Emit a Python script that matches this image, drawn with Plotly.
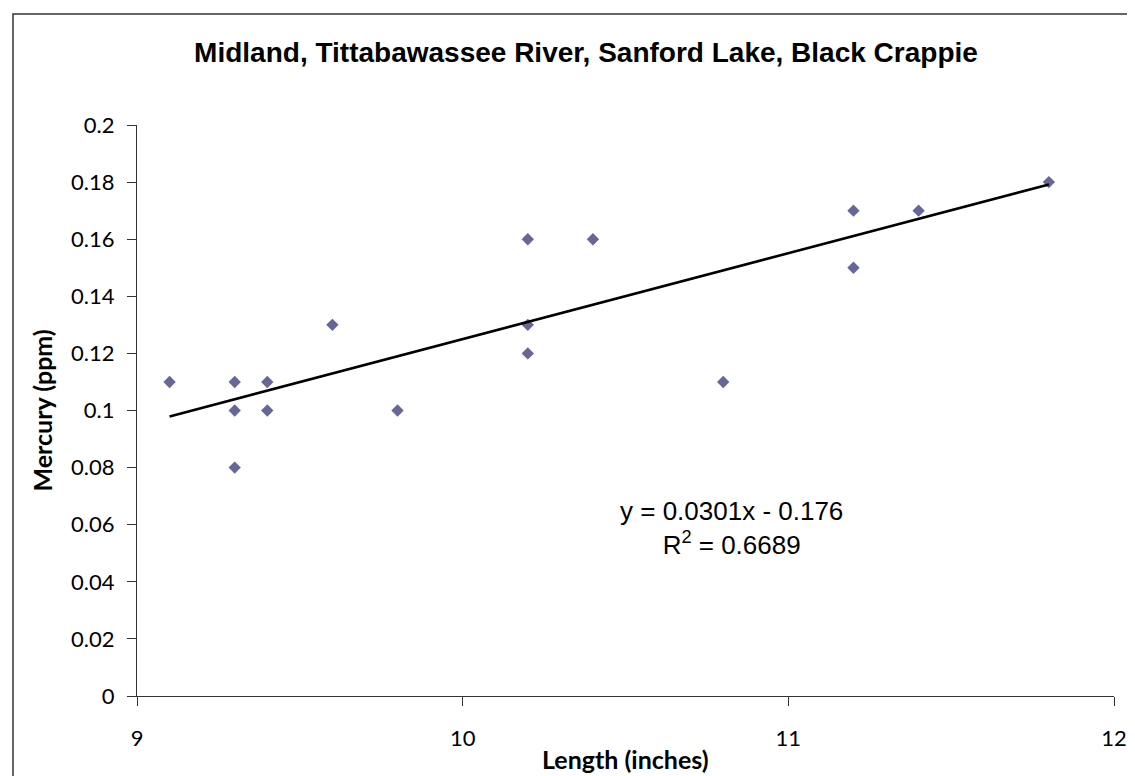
import numpy as np
import plotly.graph_objects as go

# fish length (inches) vs mercury (ppm)
length = [9.1, 9.3, 9.3, 9.3, 9.4, 9.4, 9.6, 9.8, 10.2, 10.2, 10.2, 10.4, 10.8, 11.2, 11.2, 11.4, 11.8]
mercury = [0.11, 0.11, 0.10, 0.08, 0.11, 0.10, 0.13, 0.10, 0.16, 0.13, 0.12, 0.16, 0.11, 0.17, 0.15, 0.17, 0.18]

slope = 0.0301
intercept = -0.176
r_squared = 0.6689

W, H = 1135, 776
L, R, T, B = 129, 29, 117, 88
pw, ph = W - L - R, H - T - B

fig = go.Figure()

fig.add_trace(go.Scatter(
    x=length, y=mercury, mode='markers', name='Mercury',
    marker=dict(symbol='diamond', size=9.5, color='#666699', line=dict(width=0))
))

trend_x = np.array([min(length), max(length)])
fig.add_trace(go.Scatter(
    x=trend_x, y=slope * trend_x + intercept, mode='lines', name='Linear',
    line=dict(color='black', width=2.6)
))

# outer chart border (right/bottom edges fall outside the picture)
fig.add_shape(type='rect', xref='paper', yref='paper',
              x0=(5 - L) / pw, x1=(W + 10 - L) / pw,
              y0=-(B + 10) / ph, y1=(H - B - 6) / ph,
              line=dict(color='#333333', width=1.5))

fig.add_annotation(
    x=10.827, y=0.0588, xref='x', yref='y', showarrow=False,
    text=f'y = {slope}x - {abs(intercept)}<br>R<sup>2</sup> = {r_squared}',
    font=dict(family='Liberation Sans, Arial', size=26, color='black'),
    align='center'
)

# axis titles
title_font = dict(family='Lato', size=25, color='black')
fig.add_annotation(x=(617 - L) / pw, y=-(751 - (H - B)) / ph, xref='paper', yref='paper',
                   showarrow=False, text='<b>Length (inches)</b>', font=title_font,
                   xanchor='center', yanchor='middle')
fig.add_annotation(x=-(L - 33) / pw, y=0.5, xref='paper', yref='paper',
                   showarrow=False, text='<b>Mercury (ppm)</b>', font=title_font,
                   textangle=-90, xanchor='center', yanchor='middle')

axis_font = dict(family='Lato', size=22, color='black')
fig.update_layout(
    width=W, height=H,
    margin=dict(l=L, r=R, t=T, b=B),
    paper_bgcolor='white', plot_bgcolor='white',
    showlegend=False,
    title=dict(text='<b>Midland, Tittabawassee River, Sanford Lake, Black Crappie</b>',
               x=578 / W, xanchor='center', y=1 - 44 / H, yanchor='middle',
               font=dict(family='Liberation Sans, Arial', size=28, color='black')),
    xaxis=dict(range=[9, 12], dtick=1, showgrid=False, zeroline=False,
               showline=True, linecolor='#333333', linewidth=1.2,
               ticks='outside', ticklen=9, tickcolor='#333333',
               tickfont=axis_font, ticklabelstandoff=13),
    yaxis=dict(range=[0, 0.2], dtick=0.02, showgrid=False, zeroline=False,
               showline=True, linecolor='#333333', linewidth=1.2,
               ticks='outside', ticklen=9, tickcolor='#333333',
               tickfont=axis_font, ticklabelstandoff=8),
)

fig.write_html('out.html')
